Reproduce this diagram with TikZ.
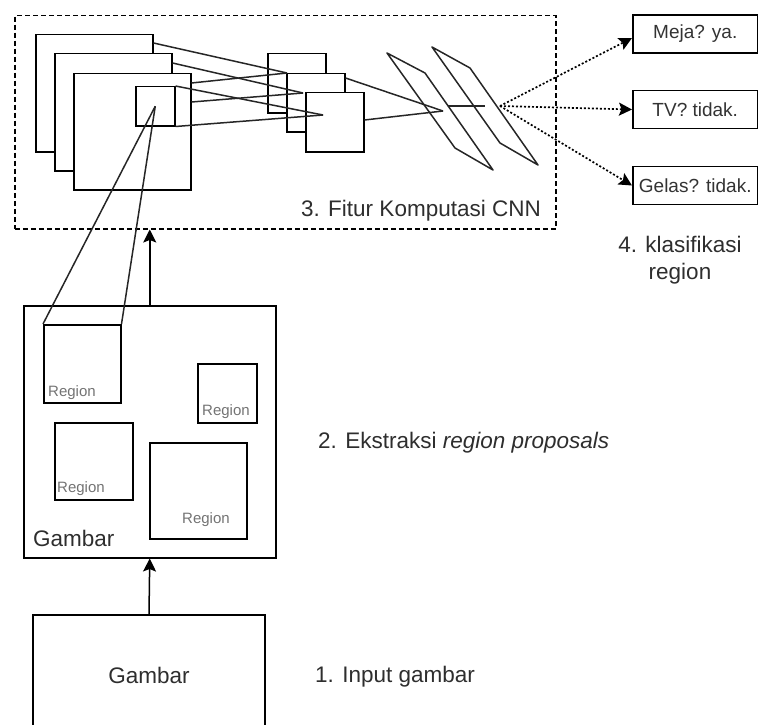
\documentclass[tikz,border=0pt]{standalone}
\usepackage{fontspec}
\setmainfont{Liberation Sans}
\usepackage{tikz}
\usetikzlibrary{arrows.meta}
\tikzstyle{layer} = [ rectangle, draw = black, fill = white, line width = 1.5pt, %
                      inner sep = 0pt, anchor = north west ]
\tikzstyle{regionbox} = [ rectangle, draw = black, line width = 1.5pt, %
                          inner sep = 0pt, anchor = north west ]
\tikzstyle{classbox} = [ rectangle, draw = black, fill = white, line width = 1.5pt, %
                         minimum width = 125pt, minimum height = 38pt, inner sep = 0pt, %
                         anchor = west, text = black!80, font = \fontsize{19}{22}\selectfont ]
\tikzstyle{caption} = [ text = black!82, inner sep = 0pt, font = \fontsize{22.5}{27}\selectfont ]
\tikzstyle{tag} = [ text = black!55, inner sep = 0pt, anchor = base west, %
                    font = \fontsize{15}{18}\selectfont ]
\tikzstyle{link} = [line width = 1.5pt, black!85]
\tikzstyle{arrow} = [line width = 1.5pt, -{Stealth[length=13pt, width=13pt, inset=2.5pt]}]
\tikzstyle{dotarrow} = [line width = 1.7pt, dash pattern = on 2pt off 2pt, %
                        -{Stealth[length=13pt, width=13pt, inset=2.5pt]}]
\newcommand{\regionlabel}{Region}

\begin{document}
\begin{tikzpicture}[x = 1pt, y = -1pt]
      \clip (0,0) rectangle (758,725);
      % CNN feature box
      \node (cnn) [rectangle, draw = black, line width = 1.5pt, dash pattern = on 5pt off 3pt, %
        inner sep = 0pt, anchor = north west, minimum width = 541pt, minimum height = 213pt] %
        at (14,15) {};
      \node (cnntext) [caption, anchor = base east] at (541,216) {3. Fitur Komputasi CNN};
      % First stack of layers
      \node (layA) [layer, minimum width = 117pt, minimum height = 117pt] at (35,34) {};
      \node (layB) [layer, minimum width = 117pt, minimum height = 117pt] at (54,53) {};
      \node (layC) [layer, minimum width = 117pt, minimum height = 116pt] at (73,73) {};
      \node (win)  [layer, minimum width = 39pt, minimum height = 39pt] at (135,86) {};
      % Second stack of layers
      \node (m1) [layer, minimum width = 58pt, minimum height = 59pt] at (267,53) {};
      \node (m2) [layer, minimum width = 58pt, minimum height = 58pt] at (286,73) {};
      \node (m3) [layer, minimum width = 58pt, minimum height = 59pt] at (305,92) {};
      \coordinate (p1) at ([shift={(20,20)}]m1.north west);
      \coordinate (p2) at ([shift={(17,20)}]m2.north west);
      \coordinate (p3) at ([shift={(18,23)}]m3.north west);
      % Layer links
      \draw [link] ([shift={(0,9)}]layA.north east)  -- (p1);
      \draw [link] ([shift={(0,10)}]layC.north east) -- (p1);
      \draw [link] ([shift={(0,10)}]layB.north east) -- (p2);
      \draw [link] ([shift={(0,29)}]layC.north east) -- (p2);
      \draw [link] (win.north east) -- (p3);
      \draw [link] (win.south east) -- (p3);
      % Fully connected layers
      \coordinate (q1) at (443,111);
      \coordinate (q2) at (448,106);
      \coordinate (q3) at (485,106);
      \coordinate (fc) at (500,106);
      \draw [link] ([shift={(0,5)}]m2.north east)  -- (q1);
      \draw [link] ([shift={(0,28)}]m3.north east) -- (q1);
      \draw [link] (q2) -- (q3);
      \draw [link, line join = round] (387,53) -- (425,73) -- (493,170) -- (455,148) -- cycle;
      \draw [link, line join = round] (432,47) -- (470,68) -- (538,165) -- (500,143) -- cycle;
      % Classes
      \node (meja)  [classbox] at (632,34)    {Meja? ya.};
      \node (tv)    [classbox] at (632,109.5) {TV? tidak.};
      \node (gelas) [classbox] at (632,185.5) {Gelas? tidak.};
      \node (klas) [caption, align = center, anchor = north] at (680,236) %
        {4. klasifikasi\\region};
      \draw [dotarrow] (fc) -- ([shift={(0,4)}]meja.west);
      \draw [dotarrow] (fc) -- (tv.west);
      \draw [dotarrow] (fc) -- (gelas.west);
      % Image with region proposals
      \node (img) [regionbox, minimum width = 252pt, minimum height = 252pt] at (23,305) {};
      \node (imgtext) [caption, anchor = base west] at (33,546) {Gambar};
      \node (r1) [regionbox, minimum width = 77pt, minimum height = 78pt] at (43,324) {};
      \node (r2) [regionbox, minimum width = 59pt, minimum height = 59pt] at (197,363) {};
      \node (r3) [regionbox, minimum width = 78pt, minimum height = 77pt] at (54,422) {};
      \node (r4) [regionbox, minimum width = 97pt, minimum height = 96pt] at (149,442) {};
      \node (r1text) [tag] at (48,396)  {\regionlabel};
      \node (r2text) [tag] at (202,415) {\regionlabel};
      \node (r3text) [tag] at (57,492)  {\regionlabel};
      \node (r4text) [tag] at (182,523) {\regionlabel};
      \node (extr) [caption, anchor = base west] at (318,448) %
        {2. Ekstraksi \textit{region proposals}};
      \draw [link] (r1.north west) -- (win.center);
      \draw [link] (r1.north east) -- (win.center);
      % Input image
      \node (input) [regionbox, anchor = center, minimum width = 232pt, minimum height = 120pt, %
        text = black!82, font = \fontsize{22.5}{27}\selectfont] at (149,675) {Gambar};
      \node (inputtext) [caption, anchor = base west] at (315,682) {1. Input gambar};
      % Arrows
      \draw [arrow] (input.north) -- (img.south);
      \draw [arrow] (img.north) -- (img.north |- cnn.south);
\end{tikzpicture}
\end{document}
